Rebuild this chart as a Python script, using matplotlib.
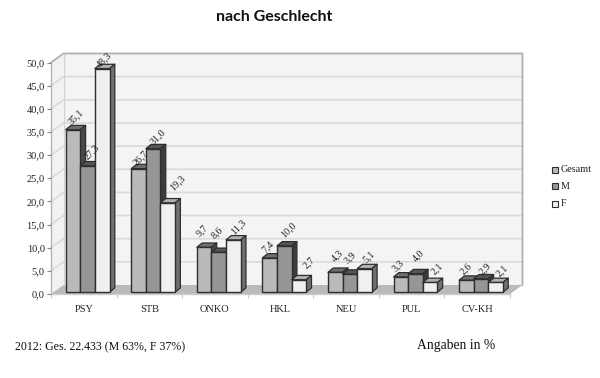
import numpy as np
import matplotlib as mpl
mpl.use('Agg')
from matplotlib import pyplot as plt
from matplotlib.patches import Polygon, Rectangle

categories = ['PSY', 'STB', 'ONKO', 'HKL', 'NEU', 'PUL', 'CV-KH']
gesamt = [35.1, 26.7, 9.7, 7.4, 4.3, 3.3, 2.6]
maenner = [27.3, 31.0, 8.6, 10.0, 3.9, 4.0, 2.9]
frauen = [48.3, 19.3, 11.3, 2.7, 5.1, 2.1, 2.1]
series_names = ['Gesamt', 'M', 'F']
yticks = [0, 5, 10, 15, 20, 25, 30, 35, 40, 45, 50]

# nudges (pixels) of the value labels from the front top of each bar
label_dx = [[3, 2, -2, -2, 2, -3, -1],
            [4, 5, -2, 4, 0, 3, 4],
            [2, 10, 5, 10, 4, 7, 6]]
label_dy = [[13, 11, 17, 11, 17, 11, 11],
            [14, 12, 20, 16, 17, 18, 10],
            [9, 20, 13, 17, 12, 14, 12]]

plt.rcParams['font.family'] = ['Liberation Serif', 'DejaVu Serif']

W, H = 600., 378.
x0, x1, y0, y50 = 51., 510., 294., 62.5
f = plt.figure(figsize=(W / 100, H / 100), dpi=100)
ax = f.add_axes([x0 / W, 1 - y0 / H, (x1 - x0) / W, (y0 - y50) / H])
ax.set_xlim(0, len(categories))
ax.set_ylim(0, 50)
for s in ax.spines.values():
    s.set_visible(False)
ax.patch.set_visible(False)

# pixel -> data scale, so the fake 3D depth can be given in pixels
px = len(categories) / (x1 - x0)
py = 50 / (y0 - y50)
wall_dx, wall_dy = 12.5 * px, 9 * py
bar_dx, bar_dy = 5.3 * px, 4.3 * py
bw = 14.6 * px
start = 14.7 * px
base = 1.8 * py

def poly(pts, fc, ec='none', lw=0, z=1):
    ax.add_patch(Polygon(pts, closed=True, facecolor=fc, edgecolor=ec, linewidth=lw,
                         zorder=z, clip_on=False, joinstyle='round'))

n = len(categories)
# walls and floor
poly([(0, 0), (wall_dx, wall_dy), (wall_dx, 50 + wall_dy), (0, 50)], '#f2f2f2', z=0)
poly([(wall_dx, wall_dy), (n + wall_dx, wall_dy), (n + wall_dx, 50 + wall_dy), (wall_dx, 50 + wall_dy)], '#f4f4f4', z=0)
poly([(0, 0), (wall_dx, wall_dy), (n + wall_dx, wall_dy), (n, 0)], '#bababa', z=0.5)
for t in yticks[1:-1]:
    ax.plot([0, wall_dx, n + wall_dx], [t, t + wall_dy, t + wall_dy], color='#dadada', lw=1.2, zorder=0.6, clip_on=False)
ax.plot([0, wall_dx, n + wall_dx, n + wall_dx], [50, 50 + wall_dy, 50 + wall_dy, wall_dy], color='#b0b0b0', lw=1.3, zorder=0.7, clip_on=False)
ax.plot([wall_dx, wall_dx], [wall_dy, 50 + wall_dy], color='#d4d4d4', lw=1, zorder=0.7, clip_on=False)
ax.plot([0, 0], [0, 50], color='#b4b4b4', lw=1, zorder=0.7, clip_on=False)
ax.plot([0, n], [0, 0], color='#cccccc', lw=1, zorder=0.7, clip_on=False)

styles = [('#bababa', '#707070', '#484848'),
          ('#969696', '#555555', '#3c3c3c'),
          ('#f0f0f0', '#b0b0b0', '#707070')]
edge = '#2e2e2e'
all_series = [gesamt, maenner, frauen]

for i in range(n):
    for j, vals in enumerate(all_series):
        v = vals[i]
        xl = i + start + j * bw
        xr = xl + bw
        top_y = v + base
        fc, top, side = styles[j]
        z = 2 + i + j * 0.1
        # later bars in a group cover the side of the earlier one
        ax.bar(xl, v, width=bw, bottom=base, align='edge', color=fc, edgecolor=edge, linewidth=1.0, zorder=z + 0.02, clip_on=False)
        poly([(xl, top_y), (xl + bar_dx, top_y + bar_dy), (xr + bar_dx, top_y + bar_dy), (xr, top_y)], top, edge, 0.9, z)
        poly([(xr, base), (xr + bar_dx, base + bar_dy), (xr + bar_dx, top_y + bar_dy), (xr, top_y)], side, edge, 0.9, z)

for i in range(n):
    for j, vals in enumerate(all_series):
        v = vals[i]
        xc = i + start + (j + 0.5) * bw
        ax.annotate(('%.1f' % v).replace('.', ','), xy=(xc, v + base),
                    xytext=(label_dx[j][i], label_dy[j][i]), textcoords='offset pixels',
                    rotation=45, ha='center', va='center', fontsize=7.2, color='#222222',
                    zorder=30, annotation_clip=False)

ax.set_yticks(yticks)
ax.set_yticklabels([('%.1f' % t).replace('.', ',') for t in yticks], fontsize=7.5, color='#222222')
ax.tick_params(axis='y', length=3, width=0.8, color='#888888', pad=1.5)
ax.set_xticks(np.arange(n + 1), minor=True)
ax.tick_params(axis='x', which='minor', length=3, width=0.8, color='#cccccc')
ax.set_xticks(np.arange(n) + 0.5)
ax.set_xticklabels(categories, fontsize=7.5, color='#222222')
ax.tick_params(axis='x', which='major', length=0, pad=8)

# legend
leg_y = [170, 186.5, 203.5]
for name, st, ly in zip(series_names, styles, leg_y):
    f.add_artist(Rectangle((552 / W, 1 - (ly + 3) / H), 6 / W, 6 / H, transform=f.transFigure,
                           facecolor=st[0], edgecolor=edge, linewidth=0.8))
    f.text(561 / W, 1 - ly / H, name, fontsize=7.3, va='center', ha='left', color='#222222')

f.text(274.5 / W, 1 - 17 / H, 'nach Geschlecht', fontsize=11.5, fontweight='bold', family='Lato',
       ha='center', va='center', color='#111111')
f.text(15 / W, 1 - 347 / H, '2012: Ges. 22.433 (M 63%, F 37%)', fontsize=8.6, ha='left', va='center', color='#111111')
f.text(417 / W, 1 - 346 / H, 'Angaben in %', fontsize=9.8, ha='left', va='center', color='#111111')

f.savefig('out.png', dpi=100)
